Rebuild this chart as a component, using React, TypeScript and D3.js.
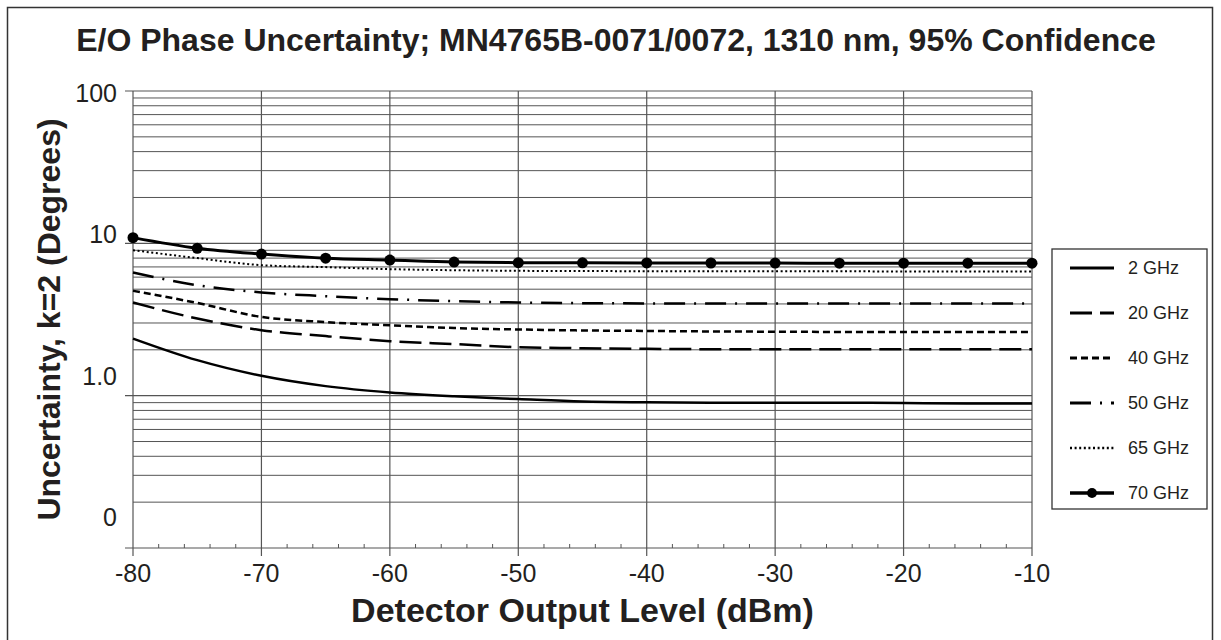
import React from "react";
import * as d3 from "d3";

const xLevels = [-80, -75, -70, -65, -60, -55, -50, -45, -40, -35, -30, -25, -20, -15, -10];
const ghz2 = [2.37, 1.71, 1.35, 1.155, 1.05, 0.99, 0.95, 0.915, 0.905, 0.9, 0.9, 0.9, 0.895, 0.89, 0.89];
const ghz20 = [4.09, 3.21, 2.69, 2.46, 2.28, 2.18, 2.08, 2.05, 2.03, 2.02, 2.02, 2.02, 2.02, 2.02, 2.02];
const ghz40 = [4.88, 4.06, 3.29, 3.04, 2.9, 2.78, 2.72, 2.68, 2.66, 2.64, 2.63, 2.62, 2.62, 2.62, 2.62];
const ghz50 = [6.44, 5.31, 4.76, 4.5, 4.3, 4.17, 4.09, 4.05, 4.03, 4.02, 4.02, 4.02, 4.02, 4.02, 4.02];
const ghz65 = [9.02, 8.0, 7.19, 6.98, 6.77, 6.66, 6.6, 6.58, 6.56, 6.55, 6.55, 6.55, 6.54, 6.54, 6.54];
const ghz70 = [10.9, 9.28, 8.5, 7.99, 7.76, 7.53, 7.47, 7.45, 7.44, 7.43, 7.42, 7.41, 7.41, 7.41, 7.41];

const seriesNames = ["2 GHz", "20 GHz", "40 GHz", "50 GHz", "65 GHz", "70 GHz"];
const seriesValues = [ghz2, ghz20, ghz40, ghz50, ghz65, ghz70];

const xTicks = [-80, -70, -60, -50, -40, -30, -20, -10];
const yTickValues = [100, 10, 1, 0.1];
const yTickLabels = ["100", "10", "1.0", "0"];

const title = "E/O Phase Uncertainty; MN4765B-0071/0072, 1310 nm, 95% Confidence";
const xTitle = "Detector Output Level (dBm)";
const yTitle = "Uncertainty, k=2 (Degrees)";

const styles = [
  { dash: "none", width: 2.5, marker: false },
  { dash: "22,8", width: 2.5, marker: false },
  { dash: "7,4", width: 2.5, marker: false },
  { dash: "21,9,2,9", width: 2.5, marker: false },
  { dash: "2,2.6", width: 2, marker: false },
  { dash: "none", width: 3, marker: true },
];

const FONT = "'Liberation Sans', Arial, Helvetica, sans-serif";
const INK = "#231f20";
const GRID = "#555";

export default function App() {
  const left = 133, right = 1032, top = 91, bottom = 548;
  const x = d3.scaleLinear().domain([-80, -10]).range([left, right]);
  const y = d3.scaleLog().domain([0.1, 100]).range([bottom, top]);

  const minorY: number[] = [];
  [0.1, 1, 10].forEach((dec) => {
    for (let k = 2; k <= 9; k++) minorY.push(dec * k);
  });
  const minorX = d3.range(-78, -10, 2).filter((v) => v % 10 !== 0);
  const labelY = d3.scaleLinear().domain([0, 3]).range([y(100) + 2, y(0.1) - 31]);

  const line = d3
    .line<number>()
    .x((_, i) => x(xLevels[i]))
    .y((d) => y(d))
    .curve(d3.curveMonotoneX);

  const legX = 1052, legY = 249, legW = 155, legH = 260;
  const rowY = d3.scaleLinear().domain([0, 5]).range([legY + 19, legY + 244]);

  return (
    <svg
      width={1221}
      height={640}
      style={{ position: "absolute", left: 0, top: 0, background: "#fff" }}
      fontFamily={FONT}
    >
      <rect x={7.5} y={7.5} width={1205} height={645} fill="#fff" stroke="#333" strokeWidth={1.5} />
      <text x={616} y={51} textAnchor="middle" fontSize={32} fontWeight="bold" fill={INK}>
        {title}
      </text>

      {/* minor horizontal grid */}
      {minorY.map((v) => (
        <line key={"my" + v} x1={left} x2={right} y1={y(v)} y2={y(v)} stroke={GRID} strokeWidth={1} />
      ))}
      {/* major horizontal */}
      {yTickValues.map((v) => (
        <line key={"My" + v} x1={left - 8} x2={right} y1={y(v)} y2={y(v)} stroke={GRID} strokeWidth={1.2} />
      ))}
      {/* vertical grid */}
      {xTicks.map((v) => (
        <line key={"vx" + v} x1={x(v)} x2={x(v)} y1={top} y2={bottom + 8} stroke={GRID} strokeWidth={1.2} />
      ))}
      {minorX.map((v) => (
        <line key={"mx" + v} x1={x(v)} x2={x(v)} y1={bottom - 4} y2={bottom} stroke={GRID} strokeWidth={1} />
      ))}

      {/* y tick labels */}
      {yTickLabels.map((t, i) => (
        <text key={"yl" + t} x={117} y={labelY(i)} dy="0.36em" textAnchor="end" fontSize={25} fill={INK}>
          {t}
        </text>
      ))}
      {/* x tick labels */}
      {xTicks.map((v) => (
        <text key={"xl" + v} x={x(v)} y={582} textAnchor="middle" fontSize={25} fill={INK}>
          {String(v)}
        </text>
      ))}

      <text x={x(-45)} y={622} textAnchor="middle" fontSize={34} fontWeight="bold" fill={INK}>
        {xTitle}
      </text>
      <text
        transform={`translate(60,${(top + bottom) / 2}) rotate(-90)`}
        textAnchor="middle"
        fontSize={32}
        fontWeight="bold"
        fill={INK}
      >
        {yTitle}
      </text>

      {/* series */}
      {seriesValues.map((vals, i) => (
        <g key={"s" + i}>
          <path
            d={line(vals) || ""}
            fill="none"
            stroke="#000"
            strokeWidth={styles[i].width}
            strokeDasharray={styles[i].dash}
          />
          {styles[i].marker &&
            vals.map((v, j) => <circle key={j} cx={x(xLevels[j])} cy={y(v)} r={5.5} fill="#000" />)}
        </g>
      ))}

      {/* legend */}
      <rect x={legX} y={legY} width={legW} height={legH} fill="#fff" stroke="#333" strokeWidth={1.3} />
      {seriesNames.map((n, i) => (
        <g key={"lg" + n}>
          <line
            x1={1070}
            x2={1114}
            y1={rowY(i)}
            y2={rowY(i)}
            stroke="#000"
            strokeWidth={styles[i].width + 0.4}
            strokeDasharray={styles[i].dash}
          />
          {styles[i].marker && <circle cx={1092} cy={rowY(i)} r={5} fill="#000" />}
          <text x={1128} y={rowY(i)} dy="0.36em" fontSize={18} fill={INK}>
            {n}
          </text>
        </g>
      ))}
    </svg>
  );
}
